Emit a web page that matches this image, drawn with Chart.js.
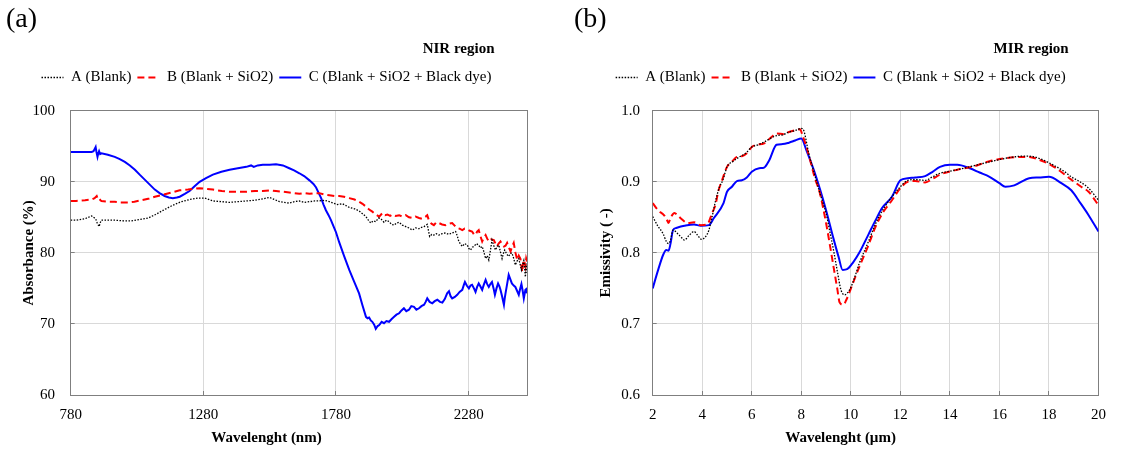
<!DOCTYPE html>
<html>
<head>
<meta charset="utf-8">
<title>NIR / MIR absorbance and emissivity</title>
<script src="https://cdn.jsdelivr.net/npm/chart.js@4.4.1/dist/chart.umd.min.js"></script>
<style>
  body { margin: 0; background: #fff; }
  .wrap { display: flex; width: 1121px; height: 454px; }
  .panel { position: relative; height: 454px; }
</style>
</head>
<body>
<div class="wrap">
  <div class="panel" style="width:560px"><canvas id="nirChart"></canvas></div>
  <div class="panel" style="width:561px"><canvas id="mirChart"></canvas></div>
</div>
<script>
// series labels, shared by both panels
const seriesLabels = ["A (Blank)", "B (Blank + SiO2)", "C (Blank + SiO2 + Black dye)"];

// (a) NIR region: [wavelength nm, absorbance %]
const nirTicks = [780, 1280, 1780, 2280];

const nirBlank = [
  [780,84.6],[800,84.6],[834,84.8],[859,85.2],[866,85.0],[874,84.8],[880,84.2],[887,83.7],[892,84.3],[896,84.6],
  [920,84.6],[946,84.6],[980,84.5],[1009,84.5],[1040,84.7],[1072,84.9],[1100,85.4],[1134,86.1],[1165,86.7],[1197,87.2],
  [1228,87.5],[1260,87.7],[1285,87.7],[1316,87.3],[1350,87.2],[1379,87.1],[1410,87.2],[1442,87.3],[1475,87.4],[1504,87.6],
  [1529,87.8],[1548,87.5],[1567,87.2],[1585,87.1],[1604,87.0],[1623,87.2],[1642,87.3],[1660,87.1],[1680,87.2],[1700,87.3],
  [1717,87.3],[1737,87.4],[1755,87.2],[1770,87.0],[1786,86.8],[1805,86.9],[1830,86.4],[1850,86.2],[1867,85.9],[1880,85.5],
  [1893,85.1],[1902,84.6],[1911,84.2],[1920,84.5],[1930,84.4],[1940,84.9],[1949,84.8],[1961,84.3],[1970,84.6],[1980,84.4],
  [1990,84.0],[1999,83.9],[2008,84.2],[2018,84.3],[2030,83.9],[2043,83.7],[2055,83.5],[2068,83.2],[2080,83.5],[2093,83.4],
  [2103,83.6],[2112,83.7],[2124,84.0],[2133,82.3],[2141,82.6],[2149,82.5],[2158,82.7],[2168,82.5],[2180,82.7],[2193,82.8],
  [2205,82.6],[2218,82.8],[2231,83.0],[2237,82.4],[2243,81.6],[2250,81.2],[2256,80.9],[2265,81.3],[2275,81.1],[2281,80.6],
  [2287,80.4],[2294,80.8],[2300,80.9],[2309,81.3],[2318,81.1],[2324,80.7],[2331,80.9],[2337,80.2],[2344,79.2],[2350,79.6],
  [2356,79.0],[2362,80.3],[2368,81.8],[2375,81.0],[2381,80.4],[2388,80.9],[2394,81.1],[2400,80.1],[2406,79.2],[2411,79.9],
  [2416,80.4],[2424,79.8],[2431,79.5],[2437,79.9],[2443,80.0],[2450,79.2],[2456,78.3],[2462,78.8],[2469,79.2],[2474,78.4],
  [2479,77.6],[2484,78.4],[2488,78.9],[2491,77.8],[2494,76.6],[2497,78.5],[2500,77.2]
];

const nirSiO2 = [
  [780,87.3],[800,87.3],[834,87.4],[859,87.5],[870,87.7],[878,88.0],[882,87.6],[887,87.7],[892,87.4],[896,87.3],
  [920,87.2],[946,87.2],[970,87.1],[997,87.1],[1020,87.2],[1047,87.4],[1072,87.6],[1097,87.9],[1130,88.2],[1160,88.5],
  [1191,88.8],[1222,88.9],[1266,89.1],[1290,89.0],[1316,88.9],[1350,88.7],[1379,88.6],[1410,88.6],[1442,88.6],[1475,88.7],
  [1504,88.7],[1530,88.8],[1554,88.7],[1580,88.6],[1604,88.5],[1623,88.4],[1642,88.3],[1660,88.4],[1680,88.3],[1700,88.4],
  [1717,88.4],[1737,88.2],[1755,88.1],[1775,88.0],[1792,88.0],[1810,87.9],[1830,87.7],[1850,87.5],[1867,87.2],[1880,86.9],
  [1893,86.5],[1905,86.1],[1917,85.8],[1930,85.4],[1943,85.1],[1955,85.6],[1965,85.3],[1974,85.4],[1984,85.2],[1993,85.4],
  [2005,85.2],[2018,85.3],[2030,85.1],[2043,85.3],[2055,85.0],[2068,84.9],[2080,85.1],[2093,84.9],[2105,84.8],[2118,85.1],
  [2124,85.3],[2130,84.6],[2140,84.1],[2149,83.9],[2158,84.3],[2168,84.2],[2180,84.0],[2193,83.9],[2205,84.1],[2218,84.2],
  [2228,83.8],[2237,83.5],[2246,83.4],[2256,83.2],[2265,83.4],[2275,83.3],[2284,83.1],[2293,83.0],[2300,82.6],[2306,82.5],
  [2312,83.0],[2318,83.2],[2324,82.4],[2331,81.6],[2337,82.1],[2344,82.5],[2350,82.0],[2356,81.6],[2365,81.9],[2375,81.8],
  [2381,81.3],[2387,80.9],[2393,81.3],[2400,81.6],[2406,81.2],[2413,80.9],[2419,81.0],[2425,81.4],[2431,80.8],[2438,80.2],
  [2444,80.9],[2450,81.4],[2456,80.1],[2463,79.0],[2469,79.6],[2475,79.2],[2479,78.2],[2482,77.3],[2485,78.4],[2488,79.0],
  [2491,78.6],[2494,78.1],[2497,79.2],[2500,78.8]
];

const nirDye = [
  [780,94.2],[800,94.2],[830,94.2],[859,94.2],[866,94.3],[870,94.6],[874,94.9],[877,94.2],[881,93.5],[884,94.0],
  [887,94.3],[891,93.9],[896,94.0],[920,93.8],[946,93.5],[965,93.2],[984,92.8],[1003,92.3],[1022,91.7],[1040,91.0],
  [1059,90.3],[1078,89.6],[1097,88.9],[1115,88.4],[1134,88.0],[1150,87.8],[1165,87.7],[1180,87.8],[1191,87.9],[1210,88.3],
  [1228,88.7],[1248,89.4],[1266,90.0],[1290,90.5],[1316,91.0],[1348,91.4],[1379,91.7],[1410,91.9],[1442,92.1],[1460,92.3],
  [1470,92.1],[1485,92.3],[1504,92.4],[1530,92.4],[1554,92.45],[1580,92.3],[1604,91.9],[1622,91.6],[1642,91.2],[1660,90.8],
  [1680,90.2],[1695,89.7],[1705,89.2],[1715,88.4],[1724,87.7],[1733,86.8],[1742,86.0],[1752,85.3],[1761,84.6],[1770,83.8],
  [1780,82.9],[1792,81.5],[1810,79.6],[1830,77.6],[1848,76.0],[1867,74.3],[1880,72.6],[1893,71.0],[1899,70.8],[1905,70.9],
  [1911,70.5],[1917,70.3],[1924,69.9],[1930,69.3],[1937,69.7],[1943,69.85],[1952,70.3],[1961,70.1],[1970,70.4],[1980,70.3],
  [1990,70.7],[1999,71.0],[2008,71.3],[2018,71.5],[2027,71.9],[2036,72.2],[2045,71.8],[2055,72.0],[2064,72.5],[2074,72.4],
  [2083,72.0],[2093,72.2],[2102,72.5],[2112,72.7],[2118,73.1],[2124,73.6],[2133,73.1],[2143,72.9],[2152,73.2],[2162,73.4],
  [2172,73.1],[2181,73.0],[2190,73.5],[2199,74.3],[2206,74.6],[2212,73.9],[2218,73.6],[2228,73.8],[2237,74.1],[2246,74.5],
  [2256,74.8],[2262,75.5],[2266,75.9],[2273,75.4],[2281,75.0],[2287,75.4],[2293,75.5],[2300,75.0],[2306,74.5],[2312,75.2],
  [2318,75.7],[2324,75.3],[2331,74.8],[2337,75.5],[2344,76.2],[2350,75.6],[2356,75.2],[2362,75.6],[2368,75.9],[2374,75.0],
  [2379,74.1],[2385,75.0],[2391,75.7],[2396,75.3],[2400,74.8],[2406,73.9],[2413,72.7],[2416,73.6],[2419,74.3],[2425,75.6],
  [2431,76.9],[2437,76.3],[2443,75.7],[2450,75.4],[2456,75.2],[2462,74.7],[2469,74.1],[2474,74.9],[2479,75.6],[2484,74.6],
  [2488,73.6],[2491,74.2],[2494,74.8],[2497,74.9],[2500,74.3]
];

// (b) MIR region: [wavelength um, emissivity]
const mirTicks = [2, 4, 6, 8, 10, 12, 14, 16, 18, 20];

const mirBlank = [
  [2.0,0.851],[2.22,0.837],[2.42,0.827],[2.55,0.816],[2.64,0.813],[2.72,0.818],[2.82,0.832],[3.01,0.827],[3.15,0.822],[3.28,0.818],
  [3.48,0.825],[3.67,0.830],[3.81,0.825],[3.97,0.819],[4.14,0.823],[4.27,0.832],[4.4,0.851],[4.53,0.872],[4.7,0.893],[4.83,0.902],
  [5.0,0.921],[5.25,0.929],[5.5,0.935],[5.75,0.940],[6.0,0.949],[6.25,0.952],[6.5,0.956],[6.75,0.961],[7.0,0.965],[7.25,0.966],
  [7.5,0.970],[7.75,0.972],[8.0,0.975],[8.1,0.972],[8.3,0.940],[8.5,0.915],[8.7,0.890],[8.85,0.873],[9.0,0.856],[9.15,0.830],
  [9.3,0.804],[9.45,0.775],[9.6,0.748],[9.75,0.741],[9.95,0.748],[10.15,0.765],[10.34,0.785],[10.7,0.815],[11.0,0.841],[11.3,0.861],
  [11.66,0.879],[12.0,0.893],[12.3,0.902],[12.6,0.903],[13.0,0.902],[13.3,0.907],[13.6,0.912],[14.0,0.915],[14.3,0.917],[14.9,0.922],
  [15.6,0.928],[16.24,0.933],[16.6,0.935],[16.9,0.936],[17.2,0.936],[17.6,0.933],[18.2,0.923],[18.6,0.915],[18.9,0.907],[19.3,0.899],
  [19.6,0.891],[20.0,0.874]
];

const mirSiO2 = [
  [2.0,0.870],[2.22,0.860],[2.48,0.852],[2.58,0.846],[2.64,0.842],[2.72,0.849],[2.88,0.856],[3.0,0.853],[3.15,0.848],[3.41,0.842],
  [3.67,0.843],[3.94,0.839],[4.2,0.840],[4.4,0.856],[4.53,0.867],[4.66,0.888],[4.8,0.902],[5.0,0.921],[5.2,0.928],[5.4,0.935],
  [5.6,0.936],[5.8,0.940],[6.0,0.949],[6.2,0.952],[6.5,0.954],[6.8,0.963],[7.0,0.968],[7.3,0.967],[7.5,0.970],[7.8,0.973],
  [7.95,0.974],[8.05,0.965],[8.2,0.950],[8.36,0.930],[8.55,0.905],[8.75,0.884],[9.0,0.842],[9.15,0.812],[9.28,0.785],[9.45,0.750],
  [9.55,0.730],[9.7,0.727],[9.82,0.734],[10.08,0.757],[10.34,0.780],[10.7,0.810],[11.0,0.837],[11.3,0.857],[11.66,0.874],[12.0,0.891],
  [12.3,0.900],[12.6,0.901],[13.0,0.899],[13.3,0.904],[13.6,0.910],[14.3,0.917],[14.9,0.921],[15.6,0.929],[16.24,0.933],[16.9,0.935],
  [17.2,0.935],[17.6,0.931],[18.2,0.921],[18.9,0.903],[19.3,0.893],[19.6,0.886],[20.0,0.867]
];

const mirDye = [
  [2.0,0.750],[2.22,0.776],[2.42,0.797],[2.55,0.804],[2.64,0.803],[2.72,0.813],[2.82,0.832],[2.95,0.835],[3.28,0.838],[3.67,0.840],
  [3.94,0.838],[4.27,0.839],[4.47,0.849],[4.86,0.870],[5.0,0.886],[5.2,0.893],[5.4,0.901],[5.6,0.902],[5.8,0.906],[6.0,0.914],
  [6.3,0.919],[6.5,0.920],[6.7,0.930],[7.0,0.952],[7.25,0.953],[7.5,0.955],[7.75,0.958],[8.0,0.961],[8.2,0.945],[8.5,0.917],
  [8.75,0.890],[9.0,0.860],[9.3,0.820],[9.5,0.795],[9.67,0.776],[9.85,0.777],[10.1,0.787],[10.34,0.800],[10.7,0.825],[11.0,0.846],
  [11.26,0.863],[11.66,0.879],[12.0,0.902],[12.3,0.905],[12.6,0.906],[13.0,0.908],[13.3,0.914],[13.6,0.921],[14.0,0.924],[14.3,0.924],
  [14.8,0.919],[15.2,0.913],[15.6,0.907],[16.0,0.898],[16.24,0.893],[16.6,0.895],[17.2,0.905],[17.6,0.906],[18.0,0.907],[18.5,0.898],
  [18.9,0.888],[19.27,0.870],[19.6,0.853],[20.0,0.830]
];

Chart.defaults.font.family = "'Liberation Serif', 'Times New Roman', serif";
Chart.defaults.color = "#000";

const axisGray = "#7f7f7f";
const gridGray = "#d9d9d9";

const toPoints = pairs => pairs.map(p => ({x: p[0], y: p[1]}));

const makeDatasets = (series, tension) => {
  const styles = [
    {borderColor: "#000000", borderWidth: 1.3, borderDash: [1.5, 1.5]},
    {borderColor: "#ff0000", borderWidth: 2, borderDash: [7, 4]},
    {borderColor: "#0000ff", borderWidth: 2, borderDash: []}
  ];
  return series.map((s, i) => ({
    label: seriesLabels[i],
    data: toPoints(s),
    borderColor: styles[i].borderColor,
    backgroundColor: styles[i].borderColor,
    borderWidth: styles[i].borderWidth,
    borderDash: styles[i].borderDash,
    pointRadius: 0,
    pointStyle: "line",
    tension: tension,
    cubicInterpolationMode: tension ? "monotone" : "default",
    fill: false
  }));
};

// legend samples: short line with the dataset's own dash pattern
const lineLabels = chart => chart.data.datasets.map((ds, i) => ({
  text: ds.label,
  datasetIndex: i,
  hidden: false,
  pointStyle: "line",
  strokeStyle: ds.borderColor,
  fillStyle: ds.borderColor,
  lineWidth: ds.borderWidth,
  lineDash: ds.borderDash
}));

const makeChart = (id, p) => new Chart(id, {
  type: "line",
  data: { datasets: makeDatasets(p.series, p.tension) },
  options: {
    responsive: true,
    maintainAspectRatio: false,
    animation: false,
    events: [],
    layout: { padding: { left: p.padLeft, right: p.padRight, top: 0, bottom: 0 } },
    plugins: {
      title: {
        display: true,
        text: p.panel,
        align: "start",
        font: { size: 28, weight: "normal" },
        padding: { top: 3, bottom: 4.6 }
      },
      // x axis caption sits under the whole panel, not the plot centre
      subtitle: {
        display: true,
        position: "bottom",
        text: p.xTitle,
        font: { size: 15, weight: "bold" },
        padding: { top: 0, bottom: 7 }
      },
      legend: {
        display: true,
        labels: {
          usePointStyle: true, pointStyleWidth: 22, padding: 6, font: { size: 15 },
          generateLabels: lineLabels
        },
        title: {
          display: true,
          text: p.region,
          position: "end",
          font: { size: 15, weight: "bold" },
          padding: { top: 0, bottom: 4.8 }
        }
      },
      tooltip: { enabled: false }
    },
    scales: {
      x: {
        type: "linear",
        min: p.xMin,
        max: p.xMax,
        afterFit: s => { s.height = 34; },
        afterBuildTicks: s => { s.ticks = p.xTicks.map(v => ({value: v})); },
        grid: { color: gridGray, tickLength: -4, tickColor: axisGray },
        border: { color: axisGray },
        ticks: { padding: 15, font: { size: 15 }, autoSkip: false, maxRotation: 0, callback: v => String(v) }
      },
      y: {
        type: "linear",
        min: p.yMin,
        max: p.yMax,
        afterFit: s => { s.width = p.yWidth; },
        grid: { color: gridGray, tickLength: -4, tickColor: axisGray },
        border: { color: axisGray },
        ticks: { stepSize: p.yStep, padding: p.yPad, font: { size: 15 }, callback: v => v.toFixed(p.yDigits) },
        title: { display: true, text: p.yTitle, font: { size: 15, weight: "bold" }, padding: { top: p.yTitlePad, bottom: 0 } }
      },
      // top and right frame lines of the plot box
      x2: {
        type: "linear", position: "top", min: 0, max: 1,
        afterFit: s => { s.height = 15.7; },
        grid: { display: false }, ticks: { display: false },
        border: { color: axisGray }
      },
      y2: {
        type: "linear", position: "right", min: 0, max: 1,
        afterFit: s => { s.width = 0; },
        grid: { display: false }, ticks: { display: false },
        border: { color: axisGray }
      }
    }
  }
});

makeChart("nirChart", {
  series: [nirBlank, nirSiO2, nirDye],
  tension: 0,
  panel: "(a)",
  region: "NIR region",
  padLeft: 6, padRight: 33,
  xMin: 780, xMax: 2500, xTicks: nirTicks,
  xTitle: "Wavelenght (nm)",
  yMin: 60, yMax: 100, yStep: 10, yDigits: 0,
  yWidth: 64.7, yPad: 19.7, yTitlePad: 14,
  yTitle: "Absorbance (%)"
});

makeChart("mirChart", {
  series: [mirBlank, mirSiO2, mirDye],
  tension: 0.3,
  panel: "(b)",
  region: "MIR region",
  padLeft: 14, padRight: 13.7,
  xMin: 2, xMax: 20, xTicks: mirTicks,
  xTitle: "Wavelenght (\u00b5m)",
  yMin: 0.6, yMax: 1.0, yStep: 0.1, yDigits: 1,
  yWidth: 78.7, yPad: 16.7, yTitlePad: 23,
  yTitle: "Emissivity ( -)"
});
</script>
</body>
</html>
